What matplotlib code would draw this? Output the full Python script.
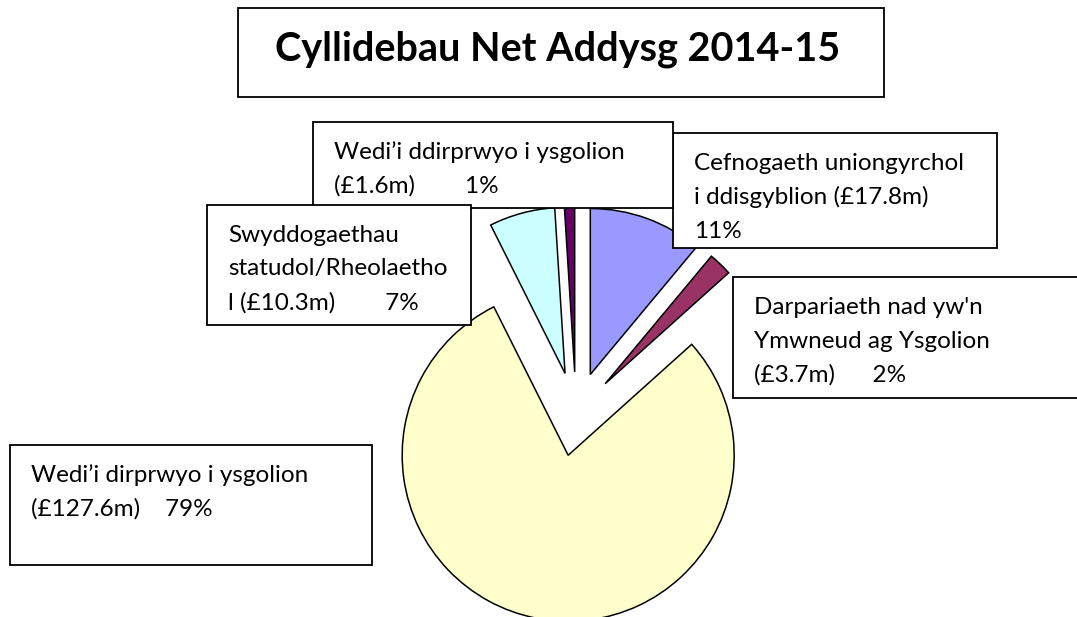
import matplotlib
matplotlib.use("Agg")
import matplotlib.pyplot as plt
from matplotlib.patches import Rectangle

W, H = 1077, 617

TITLE = "Cyllidebau Net Addysg 2014-15"

# slices, clockwise from 12 o'clock
categories = [
    "Cefnogaeth uniongyrchol i ddisgyblion",
    "Darpariaeth nad yw'n Ymwneud ag Ysgolion",
    "Wedi\u2019i dirprwyo i ysgolion",
    "Swyddogaethau statudol/Rheolaethol",
    "Wedi\u2019i ddirprwyo i ysgolion",
]
values = [17.8, 3.7, 127.6, 10.3, 1.6]
colors = ["#9999FF", "#993366", "#FFFFCC", "#CCFFFF", "#660066"]

# label text as it is wrapped in the boxes
label_lines = [
    ["Cefnogaeth uniongyrchol", "i ddisgyblion (\u00a317.8m)", "11%"],
    ["Darpariaeth nad yw'n", "Ymwneud ag Ysgolion", "(\u00a33.7m)      2%"],
    ["Wedi\u2019i dirprwyo i ysgolion", "(\u00a3127.6m)    79%"],
    ["Swyddogaethau", "statudol/Rheolaetho", "l (\u00a310.3m)        7%"],
    ["Wedi\u2019i ddirprwyo i ysgolion", "(\u00a31.6m)        1%"],
]

# label boxes in pixel coords: x0, y0, x1, y1 (y down)
boxes = [
    (673, 133, 997, 248),
    (733, 277, 1090, 398),
    (10, 445, 372, 565),
    (207, 205, 471, 325),
    (313, 122, 673, 208),
]
# draw order of the boxes (later ones on top)
box_order = [0, 1, 2, 4, 3]

PIE_CENTER = (576, 414)
PIE_R = 166
EXPLODE_PX = 42
LINE_H = 34

plt.rcParams["font.family"] = ["Lato", "DejaVu Sans"]

fig = plt.figure(figsize=(W / 100, H / 100), dpi=100)
ax = fig.add_axes([0, 0, 1, 1])

# explode is in data units here (pixels), not a fraction of the radius
ax.pie(values, colors=colors, radius=PIE_R, center=PIE_CENTER,
       startangle=-90, counterclock=True,
       explode=[EXPLODE_PX] * len(values),
       wedgeprops=dict(edgecolor="black", linewidth=1.1), frame=True)
ax.set_xlim(0, W)
ax.set_ylim(H, 0)
ax.set_aspect("equal")
ax.axis("off")

# title box
ax.add_patch(Rectangle((238, 8), 646, 89, facecolor="white",
                       edgecolor="black", linewidth=1.3, zorder=5))
ax.text(275, 49, TITLE, fontsize=28.5, fontweight="bold", va="center",
        ha="left", zorder=6)

for i in box_order:
    x0, y0, x1, y1 = boxes[i]
    ax.add_patch(Rectangle((x0, y0), x1 - x0, y1 - y0, facecolor="white",
                           edgecolor="black", linewidth=1.3, zorder=5))
    for k, line in enumerate(label_lines[i]):
        ax.text(x0 + 21, y0 + 30 + k * LINE_H, line, fontsize=17.5,
                va="center", ha="left", zorder=6)

fig.savefig("out.png", dpi=100)
